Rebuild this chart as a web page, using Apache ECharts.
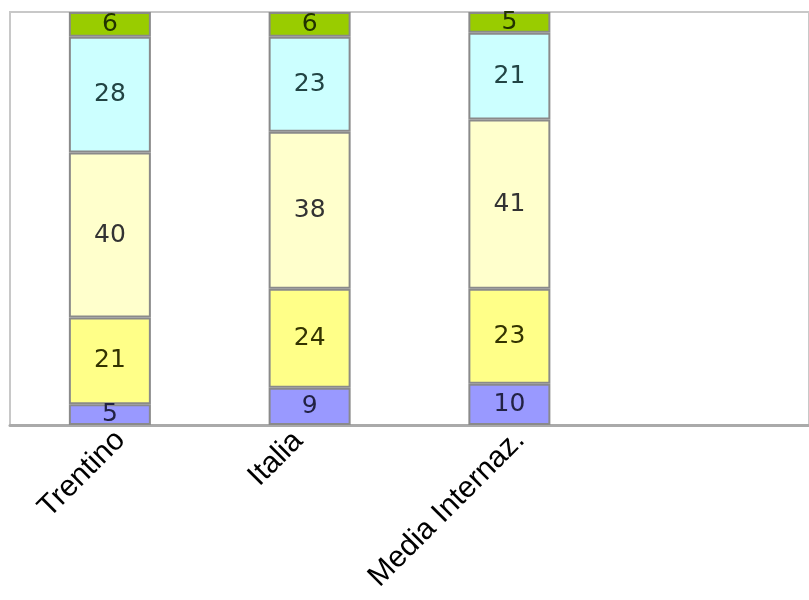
<!DOCTYPE html>
<html><head><meta charset="utf-8">
<script src="https://cdn.jsdelivr.net/npm/echarts@6/dist/echarts.min.js"></script>
<style>html,body{margin:0;padding:0;background:#fff}#c{width:809px;height:600px}</style>
</head><body><div id="c"></div>
<script>
const categories = ['Trentino', 'Italia', 'Media Internaz.', ''];
const s1 = [5, 9, 10];
const s2 = [21, 24, 23];
const s3 = [40, 38, 41];
const s4 = [28, 23, 21];
const s5 = [6, 6, 5];
const colors = ['#9999ff', '#ffff88', '#ffffcc', '#ccffff', '#99cc00'];
const labelColors = ['#222244', '#333300', '#333333', '#224444', '#223300'];
const all = [s1, s2, s3, s4, s5];

const chart = echarts.init(document.getElementById('c'));
chart.setOption({
  animation: false,
  grid: { left: 10, top: 12, width: 804, height: 413, show: true, borderColor: '#c8c8c8', borderWidth: 2, backgroundColor: '#fff' },
  xAxis: {
    type: 'category',
    data: categories.map(c => c === 'Italia' ? { value: c, textStyle: { verticalAlign: 'middle', padding: [9, 16, 0, 0] } } : c),
    axisLine: { lineStyle: { color: '#aaaaaa', width: 3 } },
    axisTick: { show: false },
    axisLabel: { rotate: 45, interval: 0, fontFamily: 'Liberation Sans', fontSize: 30, color: '#000', margin: 0, verticalAlign: 'top' }
  },
  yAxis: { type: 'value', min: 0, max: 100, show: false, splitLine: { show: false } },
  series: all.map((d, i) => ({
    type: 'bar', stack: 'a', data: d, barWidth: 82,
    itemStyle: { color: colors[i], borderColor: '#8a8a8a', borderWidth: 2 },
    label: { show: true, position: 'inside', fontFamily: 'DejaVu Sans', fontSize: 25, color: labelColors[i] }
  }))
});
</script></body></html>
